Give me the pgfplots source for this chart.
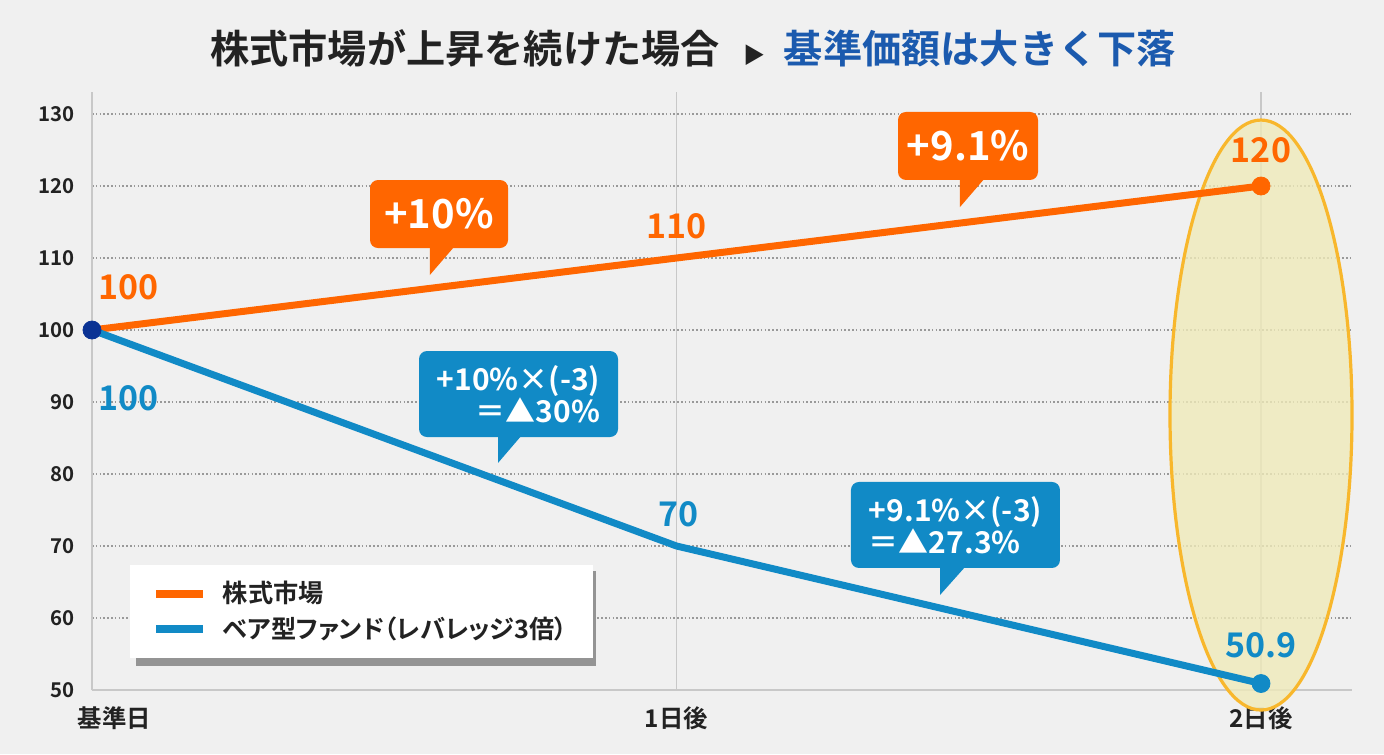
\documentclass[border=0pt]{standalone}
\usepackage{fontspec}
\usepackage{pgfplots}
\pgfplotsset{compat=1.18}
\setmainfont{Noto Sans CJK JP}[BoldFont={Noto Sans CJK JP Bold}]
\newfontfamily\jpp{Noto Sans CJK JP}[BoldFont={Noto Sans CJK JP Bold}, RawFeature=+palt]
\definecolor{bg}{HTML}{F0F0F0}
\definecolor{cOrange}{HTML}{FF6600}
\definecolor{cBlue}{HTML}{118AC6}
\definecolor{cNavy}{HTML}{0A3294}
\definecolor{tBlue}{HTML}{1B5AAE}
\definecolor{tDark}{HTML}{222222}
\definecolor{eFill}{RGB}{239,234,185}
\definecolor{eEdge}{HTML}{F8B72C}
\definecolor{axGray}{HTML}{C8C8C8}
\definecolor{dotGray}{HTML}{999999}
\begin{document}
\begin{tikzpicture}
\fill[bg] (0pt,0pt) rectangle (692pt,377pt);
\node[font=\fontsize{19.6}{20}\selectfont\bfseries, text=tDark, inner sep=0pt] at (346.5pt,353pt)
  {株式市場が上昇を続けた場合\hspace{12pt}{\fontsize{11}{11}\selectfont ▶}\hspace{9pt}\textcolor{tBlue}{基準価額は大きく下落}};
\begin{axis}[
  at={(46pt,32pt)}, anchor=south west,
  scale only axis, width=630pt, height=299pt,
  xmin=0, xmax=2.1557, ymin=50, ymax=133.06,
  xtick={0,1,2}, xticklabels={\makebox[0pt][l]{\hspace{-7pt}基準日},1日後,2日後},
  ytick={50,60,...,130},
  axis x line*=bottom, axis y line*=left,
  axis line style={axGray, line width=1pt, -},
  major tick length=0pt,
  xmajorgrids, ymajorgrids,
  x grid style={axGray, line width=0.8pt},
  y grid style={dotGray, line width=0.8pt, dash pattern=on 0.8pt off 1.1pt},
  /pgf/number format/assume math mode=true,
  ticklabel style={font=\fontsize{10.2}{10}\selectfont\bfseries, text=tDark},
  xticklabel style={font=\fontsize{12.2}{12}\selectfont\bfseries, yshift=-5pt},
  yticklabel style={xshift=-5pt},
  clip=false,
  legend cell align=left,
  legend style={at={(axis cs:0.065,67.36)}, anchor=north west, fill=white, draw=none,
    font=\jpp\fontsize{12.6}{12}\selectfont\bfseries, text=tDark,
    inner xsep=11pt, inner ysep=6pt, row sep=1.5pt},
  legend image code/.code={\draw[#1, line width=4pt, line cap=butt] (0pt,0pt) -- (23.5pt,0pt); \path (29.5pt,0pt);},
]
% highlight ellipse
\draw[eEdge, line width=1.6pt, fill=eFill, fill opacity=0.8] (axis cs:2,88.19) ellipse [x radius=45.5pt, y radius=147.5pt];

\addplot[cOrange, line width=3.5pt, line join=round] coordinates {(0,100) (1,110) (2,120)};
\addlegendentry{株式市場}
\addplot[cBlue, line width=3.5pt, line join=round] coordinates {(0,100) (1,70) (2,50.9)};
\addlegendentry{ベア型ファンド（レバレッジ3倍）}

\addplot[only marks, mark=*, cOrange, mark size=4.5pt, forget plot] coordinates {(2,120)};
\addplot[only marks, mark=*, cBlue, mark size=4.5pt, forget plot] coordinates {(2,50.9)};
\addplot[only marks, mark=*, cNavy, mark size=4.5pt, forget plot] coordinates {(0,100)};

% legend shadow (legend box itself is drawn on top)
\fill[black!42] (axis cs:0.0753,66.53) rectangle (axis cs:0.8623,53.4);

% value labels
\node[text=cOrange, font=\fontsize{17}{17}\selectfont\bfseries] at (axis cs:0.062,105.97) {100};
\node[text=cOrange, font=\fontsize{17}{17}\selectfont\bfseries] at (axis cs:1.0,114.4) {110};
\node[text=cOrange, font=\fontsize{17}{17}\selectfont\bfseries] at (axis cs:2.0,125.0) {120};
\node[text=cBlue, font=\fontsize{17}{17}\selectfont\bfseries] at (axis cs:0.062,90.56) {100};
\node[text=cBlue, font=\fontsize{17}{17}\selectfont\bfseries] at (axis cs:1.003,74.4) {70};
\node[text=cBlue, font=\fontsize{17}{17}\selectfont\bfseries] at (axis cs:2.0,56.25) {50.9};

% callouts
\fill[cOrange] (axis cs:0.578,107.64) -- ++(0pt,14.5pt) -- ++(12.5pt,0pt) -- cycle;
\node[fill=cOrange, rounded corners=4pt, minimum width=69pt, minimum height=34pt, inner sep=0pt,
  text=white, font=\fontsize{20}{20}\selectfont\bfseries] at (axis cs:0.5937,116.11) {+10\%};
\fill[cOrange] (axis cs:1.485,117.08) -- ++(0pt,14.5pt) -- ++(12.5pt,0pt) -- cycle;
\node[fill=cOrange, rounded corners=4pt, minimum width=70pt, minimum height=34pt, inner sep=0pt,
  text=white, font=\fontsize{20}{20}\selectfont\bfseries] at (axis cs:1.4987,125.56) {+9.1\%};
\fill[cBlue] (axis cs:0.6946,81.53) -- ++(0pt,14pt) -- ++(12pt,0pt) -- cycle;
\node[fill=cBlue, rounded corners=4pt, minimum width=99.5pt, minimum height=43pt, inner sep=0pt,
  text=white, align=right, font=\fontsize{15}{16}\selectfont\bfseries] at (axis cs:0.7297,91.11) {+10\%×(-3)\\＝▲30\%};
\fill[cBlue] (axis cs:1.4508,63.19) -- ++(0pt,14pt) -- ++(12.5pt,0pt) -- cycle;
\node[fill=cBlue, rounded corners=4pt, minimum width=104.5pt, minimum height=43pt, inner sep=0pt,
  text=white, align=left, font=\fontsize{15}{16}\selectfont\bfseries] at (axis cs:1.4773,72.92) {+9.1\%×(-3)\\＝▲27.3\%};
\end{axis}
\end{tikzpicture}
\end{document}
